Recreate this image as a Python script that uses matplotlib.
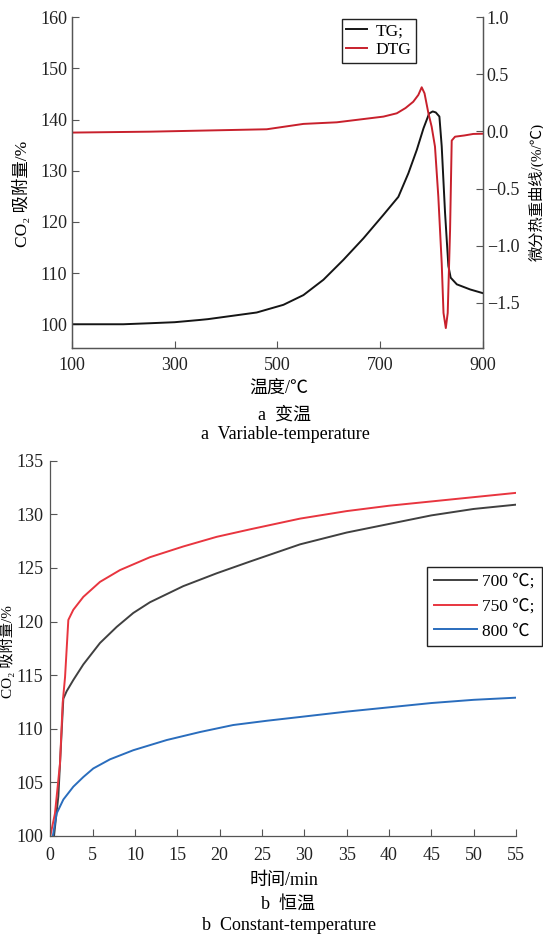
import matplotlib
matplotlib.use("Agg")
import matplotlib.pyplot as plt

plt.rcParams["font.family"] = ["Liberation Serif", "Noto Sans CJK SC", "DejaVu Sans"]
plt.rcParams["axes.unicode_minus"] = True

# (a) 变温: TG / DTG
temp_tg = [100, 200, 252, 300, 350, 365, 460, 512, 551, 590, 629, 668, 707, 736, 755.5,
           772, 785, 796, 803, 809, 816, 820.5, 827, 833.5, 838, 850, 876, 900]
tg = [100.0, 100.0, 100.2, 100.4, 100.85, 101.0, 102.3, 103.8, 105.7, 108.7, 112.6, 116.8, 121.4, 124.9, 129.5,
      134.1, 138.3, 141.2, 141.6, 141.4, 140.6, 134.8, 121.8, 111.4, 109.1, 107.8, 106.8, 106.1]

temp_dtg = [100, 252, 479.5, 551, 616, 707, 733, 750, 765, 775, 781.5, 787, 794.6, 800.9, 807.4,
            813.9, 820.5, 824, 828.5, 832.2, 836.8, 840, 846.5, 865, 882, 900]
dtg = [-0.01, -0.002, 0.019, 0.066, 0.08, 0.13, 0.159, 0.205, 0.26, 0.32, 0.387, 0.334, 0.159, 0.042, -0.133,
       -0.571, -1.154, -1.59, -1.723, -1.59, -0.863, -0.08, -0.046, -0.035, -0.022, -0.02]

# (b) 恒温: 700 / 750 / 800 ℃
t700 = [0.44, 0.95, 1.35, 1.54, 1.93, 2.72, 3.9, 5.87, 7.84, 9.8, 11.77, 15.7, 19.65, 23.6, 29.5,
        35, 40, 45, 50, 55]
c700 = [100.0, 103.7, 109.9, 112.8, 113.5, 114.55, 116.0, 118.0, 119.5, 120.8, 121.8, 123.3, 124.5,
        125.6, 127.2, 128.3, 129.1, 129.9, 130.5, 130.9]

t750 = [0, 0.55, 1.15, 1.46, 1.74, 2.13, 2.72, 3.9, 5.87, 8.23, 11.77, 15.7, 19.65, 23.6, 29.5,
        35, 40, 45, 50, 55]
c750 = [100.0, 102.1, 106.8, 112.4, 114.8, 120.15, 121.1, 122.3, 123.7, 124.8, 126.0, 127.0, 127.9,
        128.6, 129.6, 130.3, 130.8, 131.2, 131.6, 132.0]

t800 = [0.3, 0.75, 1.54, 2.72, 3.9, 5.08, 7.05, 9.8, 13.75, 17.7, 21.6, 25.6, 29.5, 35, 40, 45, 50, 55]
c800 = [100.0, 102.1, 103.4, 104.6, 105.5, 106.3, 107.15, 108.0, 108.95, 109.7, 110.35, 110.75,
        111.1, 111.6, 112.0, 112.4, 112.7, 112.9]

W, H = 543, 934
FS = 13
SPINE = "#555555"


def fx(px):
    return px / W


def fy(py):
    return 1 - py / H


def style_axis(ax, sides):
    for s in ["top", "bottom", "left", "right"]:
        ax.spines[s].set_visible(s in sides)
        ax.spines[s].set_color(SPINE)
        ax.spines[s].set_linewidth(0.9)
    ax.tick_params(direction="in", length=5, width=0.8, color=SPINE,
                   labelsize=FS, labelcolor="#222222")


fig = plt.figure(figsize=(W / 100, H / 100), dpi=100)

# ---- panel a ----
ax1 = fig.add_axes([fx(72), fy(348.3), fx(482.5 - 72), (348.3 - 17.3) / H])
ax2 = ax1.twinx()
l_tg, = ax1.plot(temp_tg, tg, color="#151515", lw=1.4, label="TG;")
l_dtg, = ax2.plot(temp_dtg, dtg, color="#c8202c", lw=1.4, label="DTG")
ax1.set_xlim(100, 900)
ax1.set_ylim(95.3, 160)
ax2.set_ylim(-1.9, 1.0)
ax1.set_xticks([100, 300, 500, 700, 900])
ax1.set_yticks(range(100, 161, 10))
ax2.set_yticks([-1.5, -1.0, -0.5, 0.0, 0.5, 1.0])
ax2.set_yticklabels(["\u22121.5", "\u22121.0", "\u22120.5", "0.0", "0.5", "1.0"])
style_axis(ax1, ["bottom", "left", "right"])
style_axis(ax2, ["bottom", "left", "right"])
ax1.tick_params(axis="x", pad=6)
ax1.tick_params(axis="y", pad=3.5)
ax2.tick_params(axis="y", pad=3)

ax2.legend(handles=[l_tg, l_dtg], loc="upper left",
           bbox_to_anchor=(fx(342), fy(19)), bbox_transform=fig.transFigure,
           fontsize=FS - 0.5, frameon=True, fancybox=False, framealpha=1,
           edgecolor="#222222", handlelength=1.2, handletextpad=0.5,
           borderpad=0.25, labelspacing=0.15, borderaxespad=0)
ax2.get_legend().get_frame().set_linewidth(1.0)

fig.text(fx(22), fy(194), "CO\u2082 吸附量/%", rotation=90, ha="center", va="center", fontsize=FS - 0.5)
fig.text(fx(536.5), fy(192), "微分热重曲线/(%/℃)", rotation=90, ha="center", va="center", fontsize=11)
fig.text(fx(279), fy(388), "温度/℃", ha="center", va="center", fontsize=FS)
fig.text(fx(285), fy(415), "a  变温", ha="center", va="center", fontsize=FS)
fig.text(fx(285), fy(435), "a  Variable-temperature", ha="center", va="center", fontsize=FS)

# ---- panel b ----
ax3 = fig.add_axes([fx(50.3), fy(836), fx(516 - 50.3), (836 - 460.7) / H])
ax3.plot(t700, c700, color="#404040", lw=1.4, label="700 ℃;")
ax3.plot(t750, c750, color="#e8353f", lw=1.4, label="750 ℃;")
ax3.plot(t800, c800, color="#2a6dbd", lw=1.4, label="800 ℃")
ax3.set_xlim(0, 55)
ax3.set_ylim(100, 135)
ax3.set_xticks(range(0, 56, 5))
ax3.set_yticks(range(100, 136, 5))
style_axis(ax3, ["bottom", "left"])
ax3.tick_params(axis="x", pad=8)
ax3.tick_params(axis="y", pad=5)

leg = ax3.legend(loc="upper left", bbox_to_anchor=(fx(426.7), fy(566.7)),
                 bbox_transform=fig.transFigure, fontsize=FS - 0.5, frameon=True,
                 fancybox=False, framealpha=1, edgecolor="#222222",
                 handlelength=2.5, handletextpad=0.3, borderpad=0.4,
                 labelspacing=0.5, borderaxespad=0)
leg.get_frame().set_linewidth(1.0)

fig.text(fx(7), fy(652), "CO\u2082 吸附量/%", rotation=90, ha="center", va="center", fontsize=11)
fig.text(fx(284), fy(881), "时间/min", ha="center", va="center", fontsize=FS)
fig.text(fx(288), fy(904), "b  恒温", ha="center", va="center", fontsize=FS)
fig.text(fx(289), fy(926), "b  Constant-temperature", ha="center", va="center", fontsize=FS)

fig.savefig("out.png", dpi=100)
